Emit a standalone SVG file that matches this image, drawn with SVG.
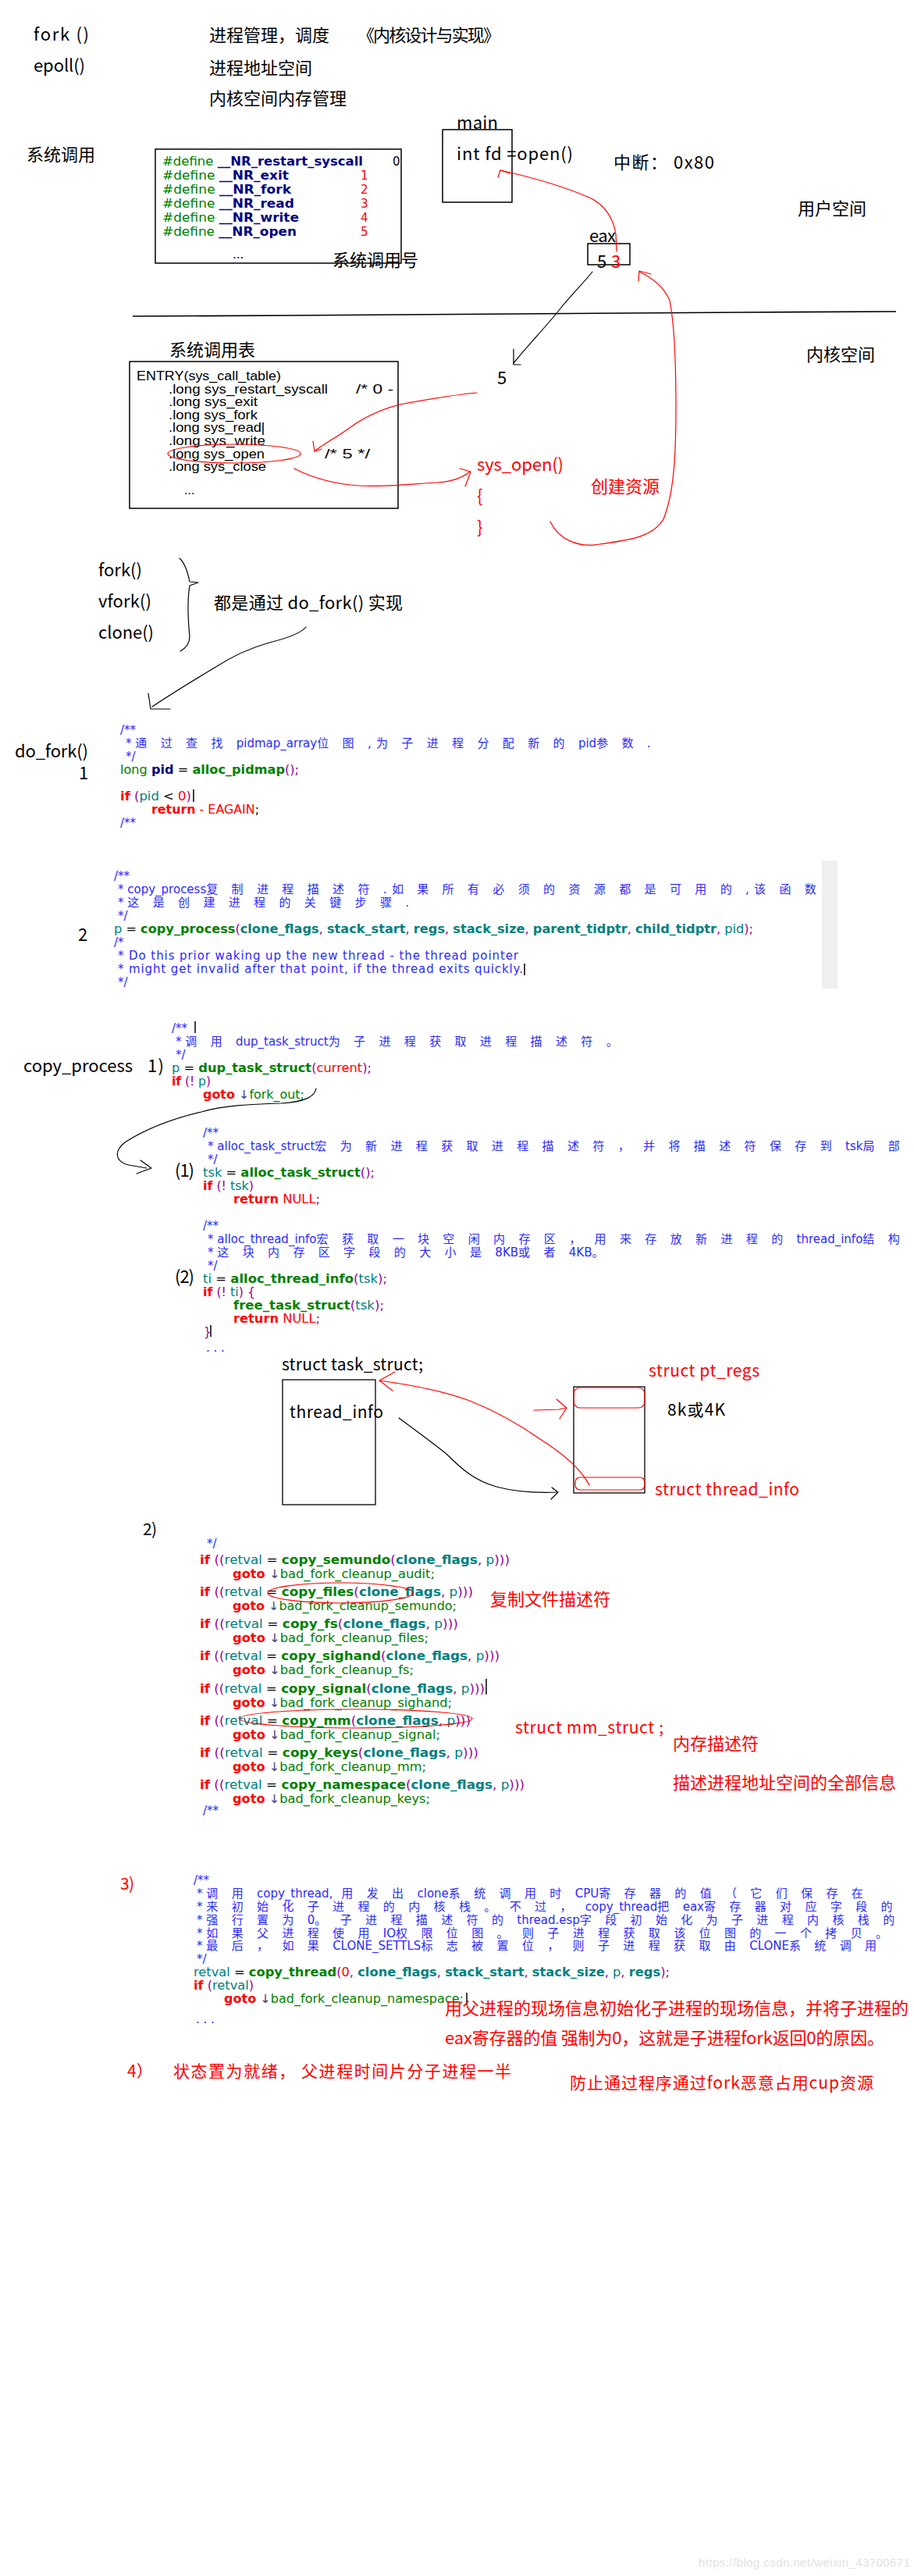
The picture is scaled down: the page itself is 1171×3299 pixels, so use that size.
<svg xmlns="http://www.w3.org/2000/svg" width="1171" height="3299" viewBox="0 0 1171 3299">
<style>
.t{font-family:"Noto Sans CJK SC",sans-serif;font-size:22px;fill:#000}
.t21{font-family:"Noto Sans CJK SC",sans-serif;font-size:21px;fill:#000}
.red{fill:#ff0000}
.cd{font-family:"DejaVu Sans","Noto Sans CJK SC",sans-serif;font-size:15px;fill:#000}
.tb{font-family:"Liberation Sans","Noto Sans CJK SC",sans-serif;font-size:16px;fill:#000}
.cm{fill:#2a2aff}
.sp{letter-spacing:6.3px}
.kw{fill:#ff0000;font-weight:bold}
.fn{fill:#008000;font-weight:bold}
.pa{fill:#008080;font-weight:bold}
.va{fill:#008080}
.pr{fill:#990099}
.rd{fill:#ff0000}
.lb{fill:#008000}
.ar{fill:#404080}
.nv{fill:#000080;font-weight:bold}
.gn{fill:#008000}
.box{fill:#fff;stroke:#000;stroke-width:1.5}
.hk{fill:none;stroke:#000;stroke-width:1.2;stroke-linecap:round;stroke-linejoin:round}
.hr{fill:none;stroke:#ff0000;stroke-width:1.2;stroke-linecap:round;stroke-linejoin:round}
.cur{stroke:#000;stroke-width:1.5}
</style>
<rect width="1171" height="3299" fill="#fff"/>

<g id="intro-notes">
<text class="t" x="43" y="52" textLength="71">fork ()</text>
<text class="t" x="43" y="92" textLength="66">epoll()</text>
<text class="t" x="268" y="53">进程管理，调度</text>
<text class="t" x="458" y="53" textLength="183">《内核设计与实现》</text>
<text class="t" x="268" y="95">进程地址空间</text>
<text class="t" x="268" y="134">内核空间内存管理</text>
</g>

<g id="syscall-label"><text class="t" x="34" y="206">系统调用</text></g>

<g id="syscall-numbers">
<rect class="box" x="199" y="191" width="315" height="146"/>
<text class="cd" x="208" y="212" textLength="257" lengthAdjust="spacingAndGlyphs"><tspan class="gn">#define</tspan> <tspan class="nv">__NR_restart_syscall</tspan></text>
<text class="cd" x="208" y="230" textLength="162" lengthAdjust="spacingAndGlyphs"><tspan class="gn">#define</tspan> <tspan class="nv">__NR_exit</tspan></text>
<text class="cd" x="208" y="248" textLength="165" lengthAdjust="spacingAndGlyphs"><tspan class="gn">#define</tspan> <tspan class="nv">__NR_fork</tspan></text>
<text class="cd" x="208" y="266" textLength="169" lengthAdjust="spacingAndGlyphs"><tspan class="gn">#define</tspan> <tspan class="nv">__NR_read</tspan></text>
<text class="cd" x="208" y="284" textLength="175" lengthAdjust="spacingAndGlyphs"><tspan class="gn">#define</tspan> <tspan class="nv">__NR_write</tspan></text>
<text class="cd" x="208" y="302" textLength="172" lengthAdjust="spacingAndGlyphs"><tspan class="gn">#define</tspan> <tspan class="nv">__NR_open</tspan></text>
<text class="cd" x="503" y="212" fill="#ff8000">0</text>
<text class="cd rd" x="462" y="230">1</text>
<text class="cd rd" x="462" y="248">2</text>
<text class="cd rd" x="462" y="266">3</text>
<text class="cd rd" x="462" y="284">4</text>
<text class="cd rd" x="462" y="302">5</text>
<text class="cd" x="298" y="331" font-size="11">...</text>
<text class="t" x="426" y="341">系统调用号</text>
</g>

<g id="main-box">
<text class="t" x="585" y="165" textLength="53">main</text>
<rect x="567" y="166" width="89" height="93" fill="none" stroke="#000" stroke-width="1.5"/>
<text class="t" x="585" y="205" textLength="149">int fd =open()</text>
</g>

<g id="interrupt-note"><text class="t" x="786" y="216" textLength="129">中断： 0x80</text></g>
<g id="user-space"><text class="t" x="1022" y="275">用户空间</text></g>

<g id="eax-box">
<text class="t" x="755" y="310" textLength="34">eax</text>
<rect x="753" y="312" width="54" height="27" fill="none" stroke="#000" stroke-width="1.5"/>
<text class="t" x="765" y="343">5</text>
<text class="t red" x="783" y="343">3</text>
</g>

<g id="boundary"><polyline points="170,405 368,404 513,403 660,402 805,401 950,400 1148,399" fill="none" stroke="#000" stroke-width="1.6"/></g>
<g id="kernel-space"><text class="t" x="1033" y="462">内核空间</text></g>
<g id="handwritten-5"><text class="t" x="637" y="492">5</text></g>

<g id="syscall-table">
<text class="t" x="217" y="456">系统调用表</text>
<rect class="box" x="166" y="463" width="344" height="188"/>
<text class="tb" x="175" y="487" textLength="185" lengthAdjust="spacingAndGlyphs">ENTRY(sys_call_table)</text>
<text class="tb" x="216" y="504" textLength="204" lengthAdjust="spacingAndGlyphs">.long sys_restart_syscall</text>
<text class="tb" x="456" y="504" textLength="48" lengthAdjust="spacingAndGlyphs">/* 0 -</text>
<text class="tb" x="216" y="520" textLength="114" lengthAdjust="spacingAndGlyphs">.long sys_exit</text>
<text class="tb" x="216" y="537" textLength="114" lengthAdjust="spacingAndGlyphs">.long sys_fork</text>
<text class="tb" x="216" y="553" textLength="119" lengthAdjust="spacingAndGlyphs">.long sys_read</text>
<line class="cur" x1="337" y1="541" x2="337" y2="557"/>
<text class="tb" x="216" y="570" textLength="124" lengthAdjust="spacingAndGlyphs">.long sys_write</text>
<text class="tb" x="216" y="587" textLength="123" lengthAdjust="spacingAndGlyphs">.long sys_open</text>
<text class="tb" x="416" y="587" textLength="58" lengthAdjust="spacingAndGlyphs">/* 5 */</text>
<text class="tb" x="216" y="603" textLength="125" lengthAdjust="spacingAndGlyphs">.long sys_close</text>
<text class="tb" x="236" y="633" font-size="12">...</text>
</g>

<g id="sys-open">
<text class="t red" x="611" y="603" textLength="111">sys_open()</text>
<text class="t red" x="611" y="643">{</text>
<text class="t red" x="611" y="683">}</text>
<text class="t red" x="757" y="631">创建资源</text>
</g>

<g id="fork-variants">
<text class="t" x="126" y="738" textLength="56">fork()</text>
<text class="t" x="126" y="778" textLength="68">vfork()</text>
<text class="t" x="126" y="818" textLength="71">clone()</text>
<text class="t" x="274" y="780" textLength="242">都是通过 do_fork() 实现</text>
</g>

<g id="do-fork">
<text class="t" x="19" y="970" textLength="94">do_fork()</text>
<text class="t" x="101" y="998">1</text>
<text class="cd cm" x="154" y="940">/**</text>
<text class="cd cm" x="161" y="957">* <tspan class="sp">通 过 查 找 </tspan>pidmap_array<tspan class="sp">位 图 ,为 子 进 程 分 配 新 的 </tspan>pid<tspan class="sp">参 数 .</tspan></text>
<text class="cd cm" x="161" y="974">*/</text>
<text class="cd" x="154" y="991" textLength="229" lengthAdjust="spacingAndGlyphs"><tspan class="gn">long</tspan> <tspan class="nv">pid</tspan> = <tspan class="fn">alloc_pidmap</tspan><tspan class="pr">();</tspan></text>
<text class="cd" x="154" y="1025" textLength="91" lengthAdjust="spacingAndGlyphs"><tspan class="kw">if</tspan> <tspan class="pr">(</tspan><tspan class="va">pid</tspan> &lt; <tspan class="rd">0</tspan><tspan class="pr">)</tspan></text>
<line class="cur" x1="248" y1="1011" x2="248" y2="1027"/>
<text class="cd" x="194" y="1042" textLength="138" lengthAdjust="spacingAndGlyphs"><tspan class="kw">return</tspan> <tspan class="rd">- EAGAIN</tspan>;</text>
<text class="cd cm" x="154" y="1059">/**</text>
</g>

<g id="copy-process-call">
<text class="t" x="100" y="1205">2</text>
<rect x="1053" y="1102" width="20" height="164" fill="#efefef"/>
<text class="cd cm" x="146" y="1127">/**</text>
<text class="cd cm" x="151" y="1144">* copy_process<tspan class="sp">复 制 进 程 描 述 符 .如 果 所 有 必 须 的 资 源 都 是 可 用 的 ,该 函 数</tspan></text>
<text class="cd cm" x="151" y="1161">* <tspan class="sp">这 是 创 建 进 程 的 关 键 步 骤 .</tspan></text>
<text class="cd cm" x="151" y="1178">*/</text>
<text class="cd" x="146" y="1195" textLength="819" lengthAdjust="spacingAndGlyphs"><tspan class="va">p</tspan> = <tspan class="fn">copy_process</tspan><tspan class="pr">(</tspan><tspan class="pa">clone_flags</tspan><tspan class="pr">, </tspan><tspan class="pa">stack_start</tspan><tspan class="pr">, </tspan><tspan class="pa">regs</tspan><tspan class="pr">, </tspan><tspan class="pa">stack_size</tspan><tspan class="pr">, </tspan><tspan class="pa">parent_tidptr</tspan><tspan class="pr">, </tspan><tspan class="pa">child_tidptr</tspan><tspan class="pr">, </tspan><tspan class="va">pid</tspan><tspan class="pr">);</tspan></text>
<text class="cd cm" x="146" y="1212">/*</text>
<text class="cd cm" x="151" y="1229" textLength="513">* Do this prior waking up the new thread - the thread pointer</text>
<text class="cd cm" x="151" y="1246" textLength="519">* might get invalid after that point, if the thread exits quickly.</text>
<line class="cur" x1="672" y1="1234" x2="672" y2="1249"/>
<text class="cd cm" x="151" y="1263">*/</text>
</g>

<g id="copy-process-step1">
<text class="t" x="30" y="1373" textLength="140">copy_process</text>
<text class="t" x="189" y="1373" textLength="21">1)</text>
<text class="cd cm" x="220" y="1322">/**</text>
<line class="cur" x1="250" y1="1308" x2="250" y2="1323"/>
<text class="cd cm" x="225" y="1339">* <tspan class="sp">调 用 </tspan>dup_task_struct<tspan class="sp">为 子 进 程 获 取 进 程 描 述 符 。</tspan></text>
<text class="cd cm" x="225" y="1356">*/</text>
<text class="cd" x="220" y="1373" textLength="256" lengthAdjust="spacingAndGlyphs"><tspan class="va">p</tspan> = <tspan class="fn">dup_task_struct</tspan><tspan class="pr">(</tspan><tspan class="rd">current</tspan><tspan class="pr">);</tspan></text>
<text class="cd" x="220" y="1390" textLength="50" lengthAdjust="spacingAndGlyphs"><tspan class="kw">if</tspan> <tspan class="pr">(! </tspan><tspan class="va">p</tspan><tspan class="pr">)</tspan></text>
<text class="cd" x="260" y="1407" textLength="130" lengthAdjust="spacingAndGlyphs"><tspan class="kw">goto</tspan> <tspan class="ar">↓</tspan><tspan class="lb">fork_out;</tspan></text>
</g>

<g id="alloc-task-struct">
<text class="t" x="224" y="1507" textLength="25">(1)</text>
<text class="cd cm" x="260" y="1456">/**</text>
<text class="cd cm" x="266" y="1473">* alloc_task_struct<tspan class="sp">宏 为 新 进 程 获 取 进 程 描 述 符 ， 并 将 描 述 符 保 存 到 </tspan>tsk<tspan class="sp">局 部</tspan></text>
<text class="cd cm" x="266" y="1490">*/</text>
<text class="cd" x="260" y="1507" textLength="220" lengthAdjust="spacingAndGlyphs"><tspan class="va">tsk</tspan> = <tspan class="fn">alloc_task_struct</tspan><tspan class="pr">();</tspan></text>
<text class="cd" x="260" y="1524" textLength="65" lengthAdjust="spacingAndGlyphs"><tspan class="kw">if</tspan> <tspan class="pr">(! </tspan><tspan class="va">tsk</tspan><tspan class="pr">)</tspan></text>
<text class="cd" x="299" y="1541" textLength="111" lengthAdjust="spacingAndGlyphs"><tspan class="kw">return</tspan> <tspan class="rd">NULL</tspan><tspan class="pr">;</tspan></text>
</g>

<g id="alloc-thread-info">
<text class="t" x="224" y="1643" textLength="25">(2)</text>
<text class="cd cm" x="260" y="1575">/**</text>
<text class="cd cm" x="266" y="1592">* alloc_thread_info<tspan class="sp">宏 获 取 一 块 空 闲 内 存 区 ， 用 来 存 放 新 进 程 的 </tspan>thread_info<tspan class="sp">结 构</tspan></text>
<text class="cd cm" x="266" y="1609">* <tspan class="sp">这 块 内 存 区 字 段 的 大 小 是 </tspan>8KB<tspan class="sp">或 者 </tspan>4KB<tspan class="sp">。</tspan></text>
<text class="cd cm" x="266" y="1626">*/</text>
<text class="cd" x="260" y="1643" textLength="236" lengthAdjust="spacingAndGlyphs"><tspan class="va">ti</tspan> = <tspan class="fn">alloc_thread_info</tspan><tspan class="pr">(</tspan><tspan class="va">tsk</tspan><tspan class="pr">);</tspan></text>
<text class="cd" x="260" y="1660" textLength="67" lengthAdjust="spacingAndGlyphs"><tspan class="kw">if</tspan> <tspan class="pr">(! </tspan><tspan class="va">ti</tspan><tspan class="pr">) {</tspan></text>
<text class="cd" x="299" y="1677" textLength="193" lengthAdjust="spacingAndGlyphs"><tspan class="fn">free_task_struct</tspan><tspan class="pr">(</tspan><tspan class="va">tsk</tspan><tspan class="pr">);</tspan></text>
<text class="cd" x="299" y="1694" textLength="111" lengthAdjust="spacingAndGlyphs"><tspan class="kw">return</tspan> <tspan class="rd">NULL</tspan><tspan class="pr">;</tspan></text>
<text class="cd pr" x="261" y="1711">}</text>
<line class="cur" x1="270" y1="1697" x2="270" y2="1712"/>
<text class="cd cm" x="264" y="1731" font-size="9">. . .</text>
</g>

<g id="task-struct">
<text class="t21" x="361" y="1755" textLength="181">struct task_struct;</text>
<rect x="362" y="1767" width="119" height="160" fill="none" stroke="#000" stroke-width="1.3"/>
<text class="t21" x="371" y="1816" textLength="120">thread_info</text>
</g>

<g id="kernel-stack">
<rect x="735" y="1776" width="91" height="136" fill="none" stroke="#000" stroke-width="1.3"/>
<rect x="735" y="1777" width="91" height="26" rx="8" fill="none" stroke="#ff0000" stroke-width="1.2"/>
<rect x="737" y="1892" width="89" height="16" rx="6" fill="none" stroke="#ff0000" stroke-width="1.2"/>
<text class="t21 red" x="831" y="1763" textLength="142">struct pt_regs</text>
<text class="t21" x="855" y="1813" textLength="74">8k或4K</text>
<text class="t21 red" x="839" y="1915" textLength="185">struct thread_info</text>
</g>

<g id="copy-resources">
<text class="t21" x="183" y="1966" textLength="18">2)</text>
<text class="cd cm" x="265" y="1982">*/</text>
<text class="cd" x="256" y="2003" textLength="397" lengthAdjust="spacingAndGlyphs"><tspan class="kw">if</tspan> <tspan class="pr">((</tspan><tspan class="va">retval</tspan> = <tspan class="fn">copy_semundo</tspan><tspan class="pr">(</tspan><tspan class="pa">clone_flags</tspan><tspan class="pr">, </tspan><tspan class="va">p</tspan><tspan class="pr">)))</tspan></text>
<text class="cd" x="298" y="2021" textLength="259" lengthAdjust="spacingAndGlyphs"><tspan class="kw">goto</tspan> <tspan class="ar">↓</tspan><tspan class="lb">bad_fork_cleanup_audit;</tspan></text>
<text class="cd" x="256" y="2044" textLength="350" lengthAdjust="spacingAndGlyphs"><tspan class="kw">if</tspan> <tspan class="pr">((</tspan><tspan class="va">retval</tspan> = <tspan class="fn">copy_files</tspan><tspan class="pr">(</tspan><tspan class="pa">clone_flags</tspan><tspan class="pr">, </tspan><tspan class="va">p</tspan><tspan class="pr">)))</tspan></text>
<text class="cd" x="298" y="2062" textLength="287" lengthAdjust="spacingAndGlyphs"><tspan class="kw">goto</tspan> <tspan class="ar">↓</tspan><tspan class="lb">bad_fork_cleanup_semundo;</tspan></text>
<text class="cd" x="256" y="2085" textLength="331" lengthAdjust="spacingAndGlyphs"><tspan class="kw">if</tspan> <tspan class="pr">((</tspan><tspan class="va">retval</tspan> = <tspan class="fn">copy_fs</tspan><tspan class="pr">(</tspan><tspan class="pa">clone_flags</tspan><tspan class="pr">, </tspan><tspan class="va">p</tspan><tspan class="pr">)))</tspan></text>
<text class="cd" x="298" y="2103" textLength="251" lengthAdjust="spacingAndGlyphs"><tspan class="kw">goto</tspan> <tspan class="ar">↓</tspan><tspan class="lb">bad_fork_cleanup_files;</tspan></text>
<text class="cd" x="256" y="2126" textLength="384" lengthAdjust="spacingAndGlyphs"><tspan class="kw">if</tspan> <tspan class="pr">((</tspan><tspan class="va">retval</tspan> = <tspan class="fn">copy_sighand</tspan><tspan class="pr">(</tspan><tspan class="pa">clone_flags</tspan><tspan class="pr">, </tspan><tspan class="va">p</tspan><tspan class="pr">)))</tspan></text>
<text class="cd" x="298" y="2144" textLength="232" lengthAdjust="spacingAndGlyphs"><tspan class="kw">goto</tspan> <tspan class="ar">↓</tspan><tspan class="lb">bad_fork_cleanup_fs;</tspan></text>
<text class="cd" x="256" y="2168" textLength="365" lengthAdjust="spacingAndGlyphs"><tspan class="kw">if</tspan> <tspan class="pr">((</tspan><tspan class="va">retval</tspan> = <tspan class="fn">copy_signal</tspan><tspan class="pr">(</tspan><tspan class="pa">clone_flags</tspan><tspan class="pr">, </tspan><tspan class="va">p</tspan><tspan class="pr">)))</tspan></text>
<line class="cur" x1="623" y1="2150" x2="623" y2="2170"/>
<text class="cd" x="298" y="2186" textLength="281" lengthAdjust="spacingAndGlyphs"><tspan class="kw">goto</tspan> <tspan class="ar">↓</tspan><tspan class="lb">bad_fork_cleanup_sighand;</tspan></text>
<text class="cd" x="256" y="2209" textLength="347" lengthAdjust="spacingAndGlyphs"><tspan class="kw">if</tspan> <tspan class="pr">((</tspan><tspan class="va">retval</tspan> = <tspan class="fn">copy_mm</tspan><tspan class="pr">(</tspan><tspan class="pa">clone_flags</tspan><tspan class="pr">, </tspan><tspan class="va">p</tspan><tspan class="pr">)))</tspan></text>
<text class="cd" x="298" y="2227" textLength="266" lengthAdjust="spacingAndGlyphs"><tspan class="kw">goto</tspan> <tspan class="ar">↓</tspan><tspan class="lb">bad_fork_cleanup_signal;</tspan></text>
<text class="cd" x="256" y="2250" textLength="357" lengthAdjust="spacingAndGlyphs"><tspan class="kw">if</tspan> <tspan class="pr">((</tspan><tspan class="va">retval</tspan> = <tspan class="fn">copy_keys</tspan><tspan class="pr">(</tspan><tspan class="pa">clone_flags</tspan><tspan class="pr">, </tspan><tspan class="va">p</tspan><tspan class="pr">)))</tspan></text>
<text class="cd" x="298" y="2268" textLength="248" lengthAdjust="spacingAndGlyphs"><tspan class="kw">goto</tspan> <tspan class="ar">↓</tspan><tspan class="lb">bad_fork_cleanup_mm;</tspan></text>
<text class="cd" x="256" y="2291" textLength="416" lengthAdjust="spacingAndGlyphs"><tspan class="kw">if</tspan> <tspan class="pr">((</tspan><tspan class="va">retval</tspan> = <tspan class="fn">copy_namespace</tspan><tspan class="pr">(</tspan><tspan class="pa">clone_flags</tspan><tspan class="pr">, </tspan><tspan class="va">p</tspan><tspan class="pr">)))</tspan></text>
<text class="cd" x="298" y="2309" textLength="253" lengthAdjust="spacingAndGlyphs"><tspan class="kw">goto</tspan> <tspan class="ar">↓</tspan><tspan class="lb">bad_fork_cleanup_keys;</tspan></text>
<text class="cd cm" x="260" y="2324" font-size="12">/**</text>
<text class="t red" x="628" y="2056">复制文件描述符</text>
<text class="t21 red" x="660" y="2220" textLength="190">struct mm_struct ;</text>
<text class="t red" x="862" y="2241">内存描述符</text>
<text class="t red" x="862" y="2291">描述进程地址空间的全部信息</text>
</g>

<g id="copy-thread">
<text class="t21 red" x="154" y="2420" textLength="18">3)</text>
<text class="cd cm" x="248" y="2413">/**</text>
<text class="cd cm" x="252" y="2430">* <tspan class="sp">调 用 </tspan>copy_thread,<tspan class="sp"> 用 发 出 </tspan>clone<tspan class="sp">系 统 调 用 时 </tspan>CPU<tspan class="sp">寄 存 器 的 值 （ 它 们 保 存 在</tspan></text>
<text class="cd cm" x="252" y="2447">* <tspan class="sp">来 初 始 化 子 进 程 的 内 核 栈 。 不 过 ， </tspan>copy_thread<tspan class="sp">把 </tspan>eax<tspan class="sp">寄 存 器 对 应 字 段 的</tspan></text>
<text class="cd cm" x="252" y="2464">* <tspan class="sp">强 行 置 为 </tspan>0<tspan class="sp">。 子 进 程 描 述 符 的 </tspan>thread.esp<tspan class="sp">字 段 初 始 化 为 子 进 程 内 核 栈 的</tspan></text>
<text class="cd cm" x="252" y="2481">* <tspan class="sp">如 果 父 进 程 使 用 </tspan>IO<tspan class="sp">权 限 位 图 。 则 子 进 程 获 取 该 位 图 的 一 个 拷 贝 。</tspan></text>
<text class="cd cm" x="252" y="2497">* <tspan class="sp">最 后 ， 如 果 </tspan>CLONE_SETTLS<tspan class="sp">标 志 被 置 位 ， 则 子 进 程 获 取 由 </tspan>CLONE<tspan class="sp">系 统 调 用</tspan></text>
<text class="cd cm" x="252" y="2514">*/</text>
<text class="cd" x="248" y="2531" textLength="610" lengthAdjust="spacingAndGlyphs"><tspan class="va">retval</tspan> = <tspan class="fn">copy_thread</tspan><tspan class="pr">(</tspan><tspan class="rd">0</tspan><tspan class="pr">, </tspan><tspan class="pa">clone_flags</tspan><tspan class="pr">, </tspan><tspan class="pa">stack_start</tspan><tspan class="pr">, </tspan><tspan class="pa">stack_size</tspan><tspan class="pr">, </tspan><tspan class="va">p</tspan><tspan class="pr">, </tspan><tspan class="pa">regs</tspan><tspan class="pr">);</tspan></text>
<text class="cd" x="248" y="2548" textLength="77" lengthAdjust="spacingAndGlyphs"><tspan class="kw">if</tspan> <tspan class="pr">(</tspan><tspan class="va">retval</tspan><tspan class="pr">)</tspan></text>
<text class="cd" x="287" y="2565" textLength="307" lengthAdjust="spacingAndGlyphs"><tspan class="kw">goto</tspan> <tspan class="ar">↓</tspan><tspan class="lb">bad_fork_cleanup_namespace;</tspan></text>
<line class="cur" x1="598" y1="2552" x2="598" y2="2568"/>
<text class="cd cm" x="251" y="2591" font-size="8">. . .</text>
<text class="t red" x="570" y="2580" textLength="594">用父进程的现场信息初始化子进程的现场信息，并将子进程的</text>
<text class="t red" x="570" y="2618" textLength="563">eax寄存器的值 强制为0，这就是子进程fork返回0的原因。</text>
</g>

<g id="step4">
<text class="t21 red" x="163" y="2660">4）</text>
<text class="t21 red" x="222" y="2660" textLength="433">状态置为就绪， 父进程时间片分子进程一半</text>
<text class="t21 red" x="730" y="2675" textLength="389">防止通过程序通过fork恶意占用cup资源</text>
</g>

<g id="connectors">
<path class="hr" d="M790,322 L789,300 C786,280 775,262 755,253 C725,240 690,229 641,218"/>
<path class="hr" d="M638,227 L641,218 L653,222"/>
<path class="hk" d="M759,348 C748,362 730,380 718,395 C700,418 680,438 658,465"/>
<path class="hk" d="M658,447 L658,467 L667,467"/>
<path class="hr" d="M611,503 C585,505 545,512 512,518 C485,525 462,537 445,550 C428,562 412,570 403,578"/>
<path class="hr" d="M401,565 L403,578 L412,575"/>
<ellipse class="hr" cx="300" cy="581" rx="85" ry="12"/>
<path class="hr" d="M377,600 C400,612 430,620 460,622 C490,624 525,620 560,618 C580,617 592,612 602,604"/>
<path class="hr" d="M589,600 L603,604 L596,623"/>
<path class="hr" d="M705,668 C715,690 740,702 768,697 C800,692 835,690 850,665 C864,630 866,580 866,520 C866,460 863,410 858,385 C852,370 840,358 819,348"/>
<path class="hr" d="M818,360 L819,347 L834,351"/>
<path class="hk" d="M230,715 C238,722 241,735 243,745 L254,746 L243,750 C240,768 241,795 243,815 C243,825 238,830 231,834"/>
<path class="hk" d="M392,803 C385,812 365,818 345,823 C320,830 295,842 275,855 C250,870 225,885 195,905"/>
<path class="hk" d="M190,888 L193,908 L218,908"/>
<path class="hk" d="M405,1394 C403,1405 390,1411 360,1413 C320,1414 285,1416 258,1424 C220,1433 185,1447 160,1463 C145,1475 148,1488 165,1492 L188,1496"/>
<path class="hk" d="M180,1486 L194,1496 L175,1503"/>
<path class="hr" d="M755,1902 C745,1882 722,1862 692,1843 C662,1822 632,1806 602,1794 C570,1782 530,1774 486,1768"/>
<path class="hr" d="M506,1757 L486,1768 L503,1781"/>
<path class="hr" d="M684,1806 L716,1805 L725,1803"/>
<path class="hr" d="M713,1792 L726,1803 L717,1817"/>
<path class="hk" d="M511,1816 C530,1830 552,1846 572,1862 C592,1882 608,1896 636,1904 C662,1911 690,1912 714,1911"/>
<path class="hk" d="M707,1905 L715,1911 L706,1920"/>
<ellipse class="hr" cx="436" cy="2040" rx="93" ry="13"/>
<ellipse class="hr" cx="456" cy="2201" rx="149" ry="12"/>
</g>

<g id="watermark"><text x="895" y="3287" font-family="Liberation Sans, sans-serif" font-size="15" fill="#e2e2e2" textLength="271">https://blog.csdn.net/weixin_43700671</text></g>
</svg>
